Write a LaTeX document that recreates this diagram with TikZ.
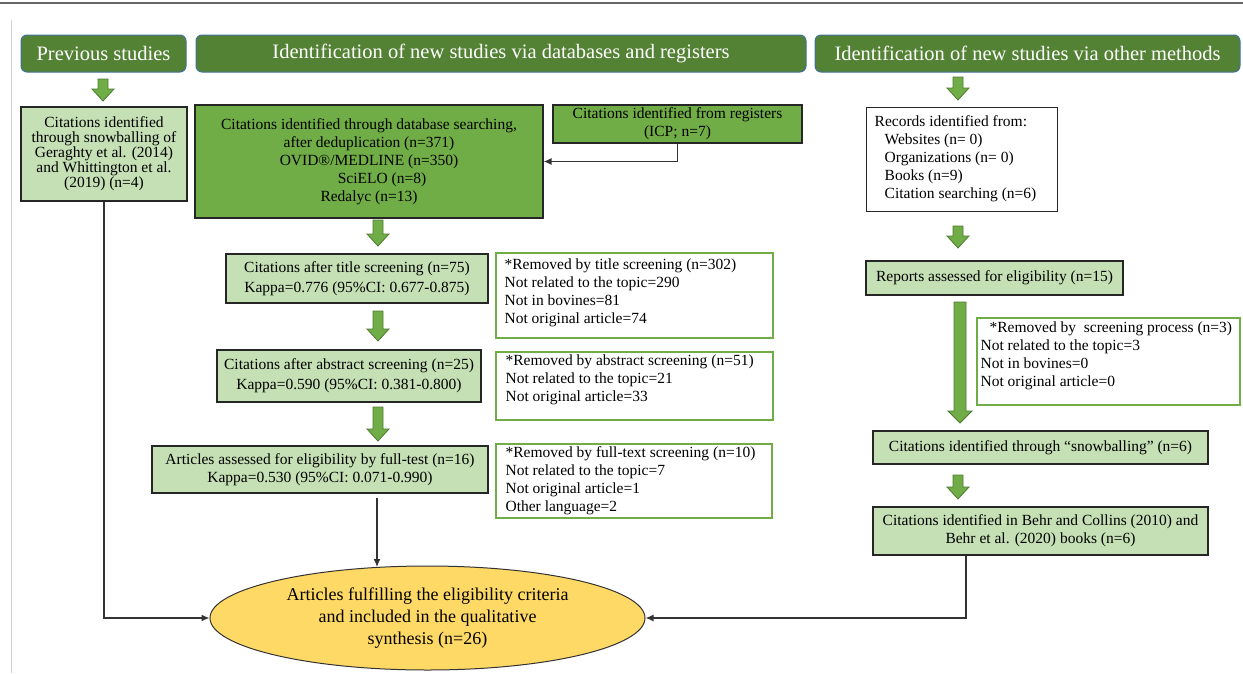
\documentclass[tikz,border=0pt]{standalone}
\usepackage{fontspec}
\setmainfont{Liberation Serif}
\usetikzlibrary{arrows.meta,shapes.geometric,calc}
\definecolor{tgreen}{HTML}{548235}
\definecolor{tborder}{HTML}{41719C}
\definecolor{mgreen}{HTML}{70AD47}
\definecolor{lgreen}{HTML}{C5E0B4}
\definecolor{dgreen}{HTML}{4E7A30}
\definecolor{yel}{HTML}{FFD966}
\newcommand\bodyf{\fontsize{15.5}{18}\selectfont}
\newcommand\titlef{\fontsize{20.5}{24}\selectfont}
\newcommand\ellf{\fontsize{18}{22}\selectfont}
\newcommand\garrow[5]{%
  \draw[garrowst] ({#1-#4},#2) -- ({#1+#4},#2) -- ({#1+#4},{#3-12}) -- ({#1+#5},{#3-12}) -- (#1,#3) -- ({#1-#5},{#3-12}) -- ({#1-#4},{#3-12}) -- cycle;}
\tikzset{
  titlebox/.style={rounded corners=6pt, fill=tgreen, draw=tborder, line width=1pt, text=white, font=\titlef, inner sep=0pt, minimum height=37pt},
  lbox/.style={fill=lgreen, draw=black!85, line width=1.2pt, inner sep=0pt, align=center, font=\bodyf},
  mbox/.style={fill=mgreen, draw=black!85, line width=1.2pt, inner sep=0pt, align=center, font=\bodyf},
  wbox/.style={fill=white, draw=black!85, line width=1pt, inner sep=0pt},
  rbox/.style={fill=white, draw=mgreen, line width=1.2pt, inner sep=0pt},
  ltext/.style={anchor=west, align=left, inner sep=0pt, font=\bodyf},
  conn/.style={draw=black!80, line width=1.3pt, -{Latex[length=8pt,width=7pt]}},
  garrowst/.style={fill=mgreen, draw=dgreen, line width=0.8pt},
  finalbox/.style={ellipse, fill=yel, draw=black!80, line width=1pt, inner sep=0pt, align=center, font=\ellf}
}
\begin{document}
\begin{tikzpicture}[x=1pt, y=-1pt]
\useasboundingbox (0,0) rectangle (1243,673);
\draw[line width=2pt, black!60] (0,3) -- (1243,3);
\draw[line width=1pt, black!18] (11,20) -- (11,673);

% titles
\node[titlebox, minimum width=165pt] (t1) at (103.5,53.5) {Previous studies};
\node[titlebox, minimum width=610pt] (t2) at (501,53.5) {Identification of new studies via databases and registers};
\node[titlebox, minimum width=425pt] (t3) at (1027.5,53.5) {Identification of new studies via other methods};

% left column
\node[lbox, minimum width=166pt, minimum height=94pt, font=\fontsize{15.5}{15}\selectfont] (prev) at (104,154)
  {Citations identified\\through snowballing of\\Geraghty et al. (2014)\\and Whittington et al.\\(2019) (n=4)};

% middle column
\node[mbox, minimum width=348pt, minimum height=113pt] (db) at (369,161.5)
  {Citations identified through database searching,\\after deduplication (n=371)\\OVID®/MEDLINE (n=350)\\\hspace*{26pt}SciELO (n=8)\\Redalyc (n=13)};
\node[mbox, minimum width=249pt, minimum height=38pt] (reg) at (677.5,124)
  {Citations identified from registers\\(ICP; n=7)};
\node[lbox, minimum width=262pt, minimum height=49pt, font=\fontsize{15.5}{20}\selectfont] (tit) at (357,278.5)
  {Citations after title screening (n=75)\\Kappa=0.776 (95\%CI: 0.677-0.875)};
\node[lbox, minimum width=264pt, minimum height=52pt, font=\fontsize{15.5}{20}\selectfont] (abs) at (349,376)
  {Citations after abstract screening (n=25)\\Kappa=0.590 (95\%CI: 0.381-0.800)};
\node[lbox, minimum width=336pt, minimum height=47pt] (full) at (320,469.5)
  {Articles assessed for eligibility by full-test (n=16)\\Kappa=0.530 (95\%CI: 0.071-0.990)};

\node[rbox, minimum width=277pt, minimum height=85pt] (remt) at (634.5,295.5) {};
\node[ltext] (remtT) at ([xshift=9pt,yshift=3pt]remt.west)
  {*Removed by title screening (n=302)\\Not related to the topic=290\\Not in bovines=81\\Not original article=74};
\node[rbox, minimum width=277pt, minimum height=68pt] (rema) at (634.5,386) {};
\node[ltext] (remaT) at ([xshift=10pt,yshift=6pt]rema.west)
  {*Removed by abstract screening (n=51)\\Not related to the topic=21\\Not original article=33};
\node[rbox, minimum width=276pt, minimum height=74pt] (remf) at (634,481) {};
\node[ltext] (remfT) at ([xshift=10pt]remf.west)
  {*Removed by full-text screening (n=10)\\Not related to the topic=7\\Not original article=1\\Other language=2};

% right column
\node[wbox, minimum width=191pt, minimum height=104pt] (rec) at (961.5,159) {};
\node[ltext] (recT) at ([xshift=9pt]rec.west)
  {Records identified from:\\\hspace*{10pt}Websites (n= 0)\\\hspace*{10pt}Organizations (n= 0)\\\hspace*{10pt}Books (n=9)\\\hspace*{10pt}Citation searching (n=6)};
\node[lbox, minimum width=257pt, minimum height=34pt] (rep) at (994.5,278) {Reports assessed for eligibility (n=15)};
\node[rbox, minimum width=263pt, minimum height=87pt] (remr) at (1108.5,361.5) {};
\node[ltext] (remrT) at ([xshift=4pt,yshift=6pt]remr.west)
  {\hspace*{9pt}*Removed by\ \ screening process (n=3)\\Not related to the topic=3\\Not in bovines=0\\Not original article=0};
\node[lbox, minimum width=335pt, minimum height=33pt] (snow) at (1040.5,447.5) {Citations identified through “snowballing” (n=6)};
\node[lbox, minimum width=335pt, minimum height=48pt] (behr) at (1040.5,531)
  {Citations identified in Behr and Collins (2010) and\\Behr et al. (2020) books (n=6)};

% final
\node[finalbox, minimum width=435pt, minimum height=104pt] (ell) at (427.5,618)
  {Articles fulfilling the eligibility criteria\\and included in the qualitative\\synthesis (n=26)};

% block arrows
\garrow{103}{79}{101}{5}{11}
\garrow{958}{77}{100}{5}{11}
\garrow{378}{220}{246}{5}{11}
\garrow{378}{311}{341}{5}{11}
\garrow{378}{407}{441}{5}{11}
\garrow{958}{226}{248}{5}{11}
\garrow{960}{302}{423}{6}{12}
\garrow{958}{475}{499}{5}{11}

% connectors
\draw[conn] (reg.south) |- (db.east);
\draw[conn] (prev.south) |- (ell.west);
\draw[conn] ([xshift=57pt,yshift=-4pt]full.south) -- ([xshift=-50.5pt,yshift=-1.5pt]ell.north);
\draw[conn] ([xshift=-74.5pt]behr.south) |- (ell.east);
\end{tikzpicture}
\end{document}
